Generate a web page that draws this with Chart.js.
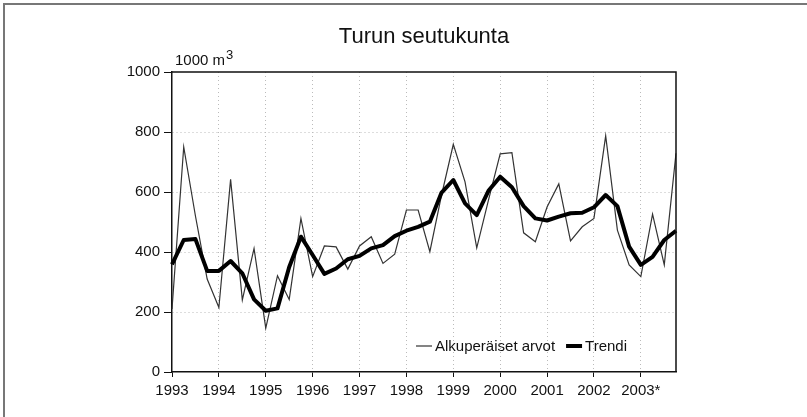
<!DOCTYPE html>
<html>
<head>
<meta charset="utf-8">
<script src="https://cdn.jsdelivr.net/npm/chart.js"></script>
<style>
  body { margin: 0; background: #fff; }
  #wrap { position: relative; width: 807px; height: 417px; }
</style>
</head>
<body>
<div id="wrap"><canvas id="myChart" width="807" height="417"></canvas></div>
<script>
// quarterly values, 1993 Q1 .. 2003 Q4 (1000 m3)
const years = ['1993', '1994', '1995', '1996', '1997', '1998', '1999', '2000', '2001', '2002', '2003*'];
const original = [210, 750, 520, 310, 215, 642, 240, 412, 146, 321, 242, 512,
  318, 420, 417, 343, 420, 451, 362, 393, 540, 540, 401, 590,
  759, 634, 414, 573, 727, 731, 464, 434, 550, 627, 437, 484,
  512, 787, 473, 357, 318, 526, 357, 729];
const trend = [359, 440, 443, 337, 337, 370, 329, 242, 204, 212, 350, 451,
  390, 327, 345, 376, 387, 412, 423, 453, 471, 484, 501, 598,
  640, 562, 523, 604, 651, 616, 553, 512, 505, 518, 529, 531,
  549, 590, 553, 418, 357, 384, 440, 471];
const yTicks = [0, 200, 400, 600, 800, 1000];

const labels = [];
years.forEach(y => { labels.push(y, '', '', ''); });

const FONT = '"Liberation Sans", Arial, Helvetica, sans-serif';

const decor = {
  id: 'decor',
  beforeDraw(chart) {
    const ctx = chart.ctx;
    ctx.save();
    ctx.strokeStyle = '#777';
    ctx.lineWidth = 2;
    ctx.strokeRect(4, 4, 820, 430);
    ctx.restore();
  },
  afterDraw(chart) {
    const ctx = chart.ctx;
    const a = chart.chartArea;
    ctx.save();
    // plot box top / right
    ctx.strokeStyle = '#111';
    ctx.lineWidth = 1.5;
    ctx.beginPath();
    ctx.moveTo(a.left, a.top);
    ctx.lineTo(a.right, a.top);
    ctx.lineTo(a.right, a.bottom);
    ctx.stroke();

    // title
    ctx.fillStyle = '#111';
    ctx.font = '22px ' + FONT;
    ctx.textAlign = 'center';
    ctx.textBaseline = 'alphabetic';
    ctx.fillText('Turun seutukunta', (a.left + a.right) / 2, 43);

    // unit
    ctx.textAlign = 'left';
    ctx.font = '15px ' + FONT;
    ctx.fillText('1000 m', 175, 65);
    const w = ctx.measureText('1000 m').width;
    ctx.font = '13px ' + FONT;
    ctx.fillText('3', 175 + w + 1, 59);

    // legend
    let x = 416;
    const y = 346;
    ctx.font = '15px ' + FONT;
    ctx.textBaseline = 'middle';
    chart.data.datasets.forEach(ds => {
      ctx.strokeStyle = ds.borderColor;
      ctx.lineWidth = ds.borderWidth;
      ctx.beginPath();
      ctx.moveTo(x, y);
      ctx.lineTo(x + 16, y);
      ctx.stroke();
      x += 19;
      ctx.fillText(ds.label, x, y + 1);
      x += ctx.measureText(ds.label).width + 11;
    });
    ctx.restore();
  }
};

const ctx = document.getElementById('myChart');
const myChart = new Chart(ctx, {
  type: 'line',
  data: {
    labels,
    datasets: [
      {
        label: 'Alkuperäiset arvot',
        data: original,
        borderColor: '#333',
        borderWidth: 1.2,
        pointRadius: 0,
        tension: 0,
        order: 2,
      },
      {
        label: 'Trendi',
        data: trend,
        borderColor: '#000',
        borderWidth: 4,
        borderJoinStyle: 'round',
        pointRadius: 0,
        tension: 0,
        order: 1,
      },
    ],
  },
  options: {
    responsive: false,
    animation: false,
    events: [],
    layout: { padding: { top: 72, right: 131, bottom: 0, left: 0 } },
    plugins: {
      legend: { display: false },
      title: { display: false },
      tooltip: { enabled: false },
    },
    scales: {
      x: {
        offset: false,
        afterFit: s => { s.height = 45; },
        ticks: {
          autoSkip: false,
          maxRotation: 0,
          minRotation: 0,
          padding: 5,
          color: '#111',
          font: { family: FONT, size: 15 },
        },
        grid: {
          color: c => (c.index > 0 && c.index % 4 === 0 ? '#bbb' : 'rgba(0,0,0,0)'),
          tickColor: c => (c.index % 4 === 0 ? '#111' : 'rgba(0,0,0,0)'),
          tickLength: 5,
          lineWidth: 1,
        },
        border: { display: true, color: '#111', width: 1.5, dash: [1, 3] },
      },
      y: {
        min: 0,
        max: 1000,
        afterFit: s => { s.width = 172; },
        afterBuildTicks: s => { s.ticks = yTicks.map(v => ({ value: v })); },
        ticks: {
          padding: 4,
          color: '#111',
          font: { family: FONT, size: 15 },
          callback: v => String(v),
        },
        grid: {
          color: c => (c.tick && c.tick.value > 0 && c.tick.value < 1000 ? '#bbb' : 'rgba(0,0,0,0)'),
          tickColor: '#111',
          tickLength: 8,
          lineWidth: 1,
        },
        border: { display: true, color: '#111', width: 1.5, dash: [1, 3] },
      },
    },
  },
  plugins: [decor],
});
</script>
</body>
</html>
